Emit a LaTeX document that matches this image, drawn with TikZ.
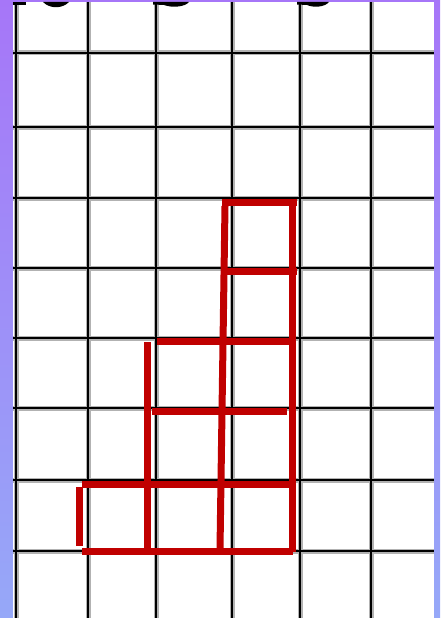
\documentclass[tikz,border=0pt]{standalone}
\usetikzlibrary{calc}
\definecolor{pen}{RGB}{192,0,0}
\definecolor{purpletop}{RGB}{166,118,248}
\definecolor{purplemid}{RGB}{152,102,252}
\definecolor{purplebot}{RGB}{150,168,248}
\tikzset{
  gridline/.style={black, line width=2.8pt},
  gridhalo/.style={black!30, line width=5pt},
  redline/.style={pen, line width=7pt, line cap=butt},
  digitpart/.style={black, fill=black}
}
\begin{document}
\begin{tikzpicture}[x=1pt,y=-1pt]
  \useasboundingbox (0,0) rectangle (440,618);
  % background
  \shade[top color=purpletop, middle color=purplemid, bottom color=purplebot] (0,0) rectangle (440,618);
  \fill[white] (13,2) rectangle (434,618);
  % grid halo
  \foreach \x in {16,88,156,232,300,371} \draw[gridhalo] (\x,2) -- (\x,618);
  \foreach \y in {53,127,198,268,338,408,480,551} \draw[gridhalo] (13,\y) -- (434,\y);
  % grid
  \foreach \x in {16,88,156,232,300,371} \draw[gridline] (\x,2) -- (\x,618);
  \foreach \y in {53,127,198,268,338,408,480,551} \draw[gridline] (13,\y) -- (434,\y);
  % cut-off digit parts at top
  \fill[digitpart] (13,2) rectangle (26,5);
  \fill[digitpart] (43,2) .. controls (50,9) and (62,9) .. (69,2) -- cycle;
  \fill[digitpart] (153,2) -- (189,2) .. controls (185,7) and (172,8) .. (164,5) -- (153,4.5) -- cycle;
  \fill[digitpart] (297,2) -- (329,2) .. controls (325,7) and (314,8) .. (307,5) -- (297,4.5) -- cycle;
  % red drawing
  \draw[redline] (222,202) -- (297,202);
  \draw[redline] (225,206) -- (220,549);
  \draw[redline] (292,206) -- (292,552);
  \draw[redline] (221,271) -- (297,271);
  \draw[redline] (157,341) -- (289,341);
  \draw[redline] (147,342) -- (147,548);
  \draw[redline] (152,411) -- (287,411);
  \draw[redline] (82,484) -- (292,484);
  \draw[redline] (79,487) -- (79,546);
  \draw[redline] (82,551) -- (293,551);
\end{tikzpicture}
\end{document}
